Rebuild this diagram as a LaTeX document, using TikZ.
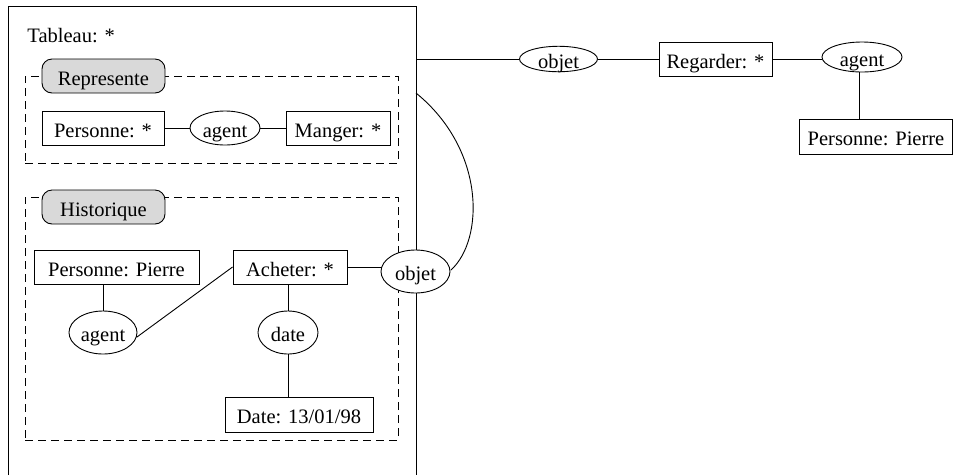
\documentclass[tikz,border=0pt]{standalone}
\usepackage{fontspec}
\setmainfont{Liberation Serif}
\usetikzlibrary{shapes.geometric}
\begin{document}
\begin{tikzpicture}[x=1pt,y=-1pt,line width=0.9pt,
  every node/.style={font=\fontsize{20.5}{24}\selectfont, inner sep=0pt},
  boxtext/.style={text height=18pt, text depth=0pt},
  concept/.style={draw, rectangle, fill=white, boxtext},
  rel/.style={draw, ellipse, fill=white, boxtext},
  ctxlabel/.style={draw, rectangle, rounded corners=10pt, fill=gray!30, minimum width=123, minimum height=34, boxtext},
  ctxbox/.style={draw, dashed, dash pattern=on 8pt off 5pt, rectangle}]
\useasboundingbox (0,0) rectangle (953,475);
% outer Tableau box (open at the bottom)
\draw (8,475) -- (8,6) -- (416,6) -- (416,475);
\node[anchor=base west] (tab) at (27,42) {Tableau: *};
\coordinate (tabtop) at (416,59);
\coordinate (tabarc) at (416,93);
% context boxes
\node[ctxbox, minimum width=373, minimum height=87] (repbox) at (211.5,119.5) {};
\node[ctxlabel] (rep) at (103.5,76) {Represente};
\node[ctxbox, minimum width=373, minimum height=243] (histbox) at (211.5,318.5) {};
\node[ctxlabel] (hist) at (103.5,207) {Historique};
% Represente content
\node[concept, minimum width=122, minimum height=34] (pers1) at (103,128) {Personne: *};
\node[rel, minimum width=70, minimum height=34] (agent1) at (225,128) {agent};
\node[concept, minimum width=104, minimum height=34] (manger) at (338,128) {Manger: *};
% Historique content
\node[concept, minimum width=165, minimum height=34] (persP) at (116.5,267) {Personne: Pierre};
\node[rel, minimum width=68, minimum height=43] (agent2) at (103,332.5) {agent};
\node[concept, minimum width=114, minimum height=34] (acheter) at (290,267) {Acheter: *};
\node[rel, minimum width=60, minimum height=43] (date) at (288,332.5) {date};
\node[concept, minimum width=148, minimum height=35] (datebox) at (299,414.5) {Date: 13/01/98};
% outside
\node[rel, minimum width=78, minimum height=24] (objet1) at (558.5,59) {objet};
\node[concept, minimum width=113, minimum height=34] (regarder) at (715.5,59) {Regarder: *};
\node[rel, minimum width=80, minimum height=30] (agent3) at (862,57) {agent};
\node[concept, minimum width=153, minimum height=35] (persP2) at (876,136.5) {Personne: Pierre};
% connectors
\draw (pers1) -- (agent1) -- (manger);
\draw (agent2) -- (agent2 |- persP.south);
\draw (agent2.-8) -- (acheter.west);
\draw (date) -- (date |- acheter.south);
\draw (date) -- (date |- datebox.north);
\draw (acheter.east) -- (acheter.east -| 381,0);
\draw (tabtop) -- (objet1) -- (regarder) -- (agent3.west |- regarder);
\draw (agent3.south -| 859,0) -- (persP2.north -| 859,0);
\draw (tabarc) .. controls (486,150) and (484,240) .. (451,270);
\node[rel, minimum width=69, minimum height=43] (objet2) at (415.5,271.5) {objet};
\end{tikzpicture}
\end{document}
